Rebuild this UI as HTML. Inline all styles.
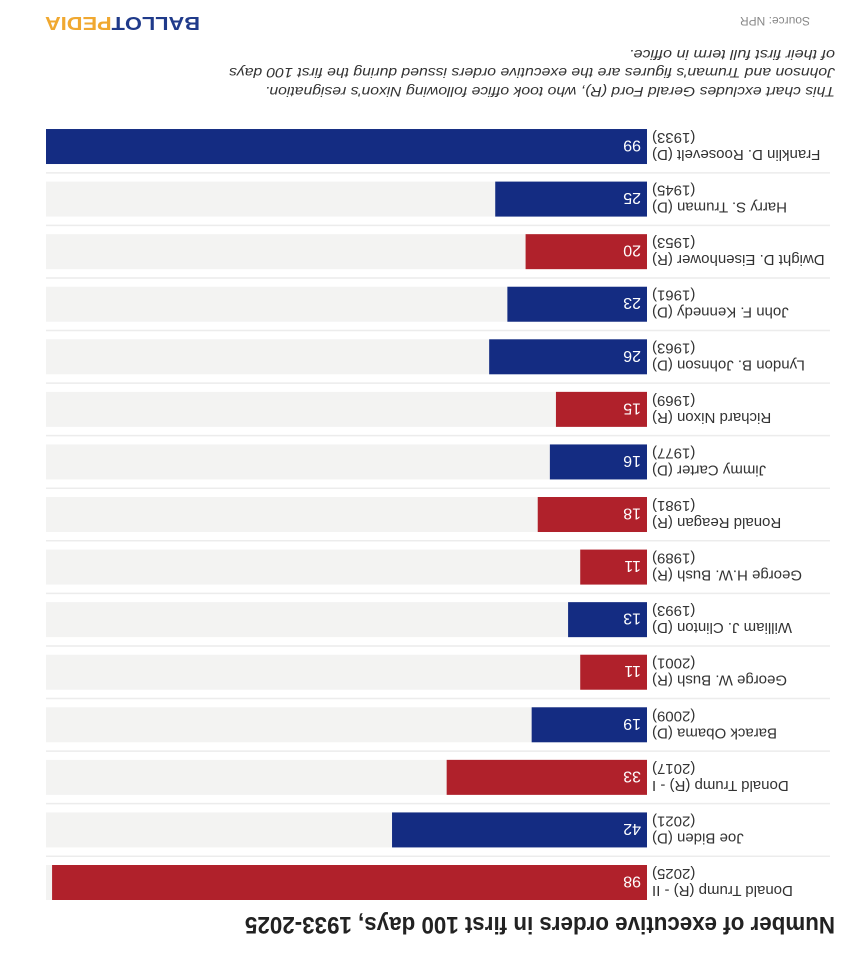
<!DOCTYPE html>
<html><head><meta charset="utf-8"><style>
html,body{margin:0;padding:0;background:#fff;}
svg{display:block;font-family:"Liberation Sans",sans-serif;}
</style></head><body>
<svg id="chart" width="845" height="956" viewBox="0 0 845 956" xmlns="http://www.w3.org/2000/svg">
<rect width="845" height="956" fill="#fff"/>
<g id="root" transform="rotate(180 422.5 478)">
<text x="10" y="39" font-size="24" font-weight="bold" fill="#222" textLength="590" lengthAdjust="spacingAndGlyphs">Number of executive orders in first 100 days, 1933-2025</text>
<g id="rows"></g>
<g font-size="14" font-style="italic" fill="#333">
<text x="10" y="869" textLength="570" lengthAdjust="spacingAndGlyphs">This chart excludes Gerald Ford (R), who took office following Nixon's resignation.</text>
<text x="10" y="888" textLength="606" lengthAdjust="spacingAndGlyphs">Johnson and Truman's figures are the executive orders issued during the first 100 days</text>
<text x="10" y="906" textLength="206" lengthAdjust="spacingAndGlyphs">of their first full term in office.</text>
</g>
<text x="35" y="939" font-size="12" fill="#888">Source: NPR</text>
<text x="800" y="939" text-anchor="end" font-size="18" font-weight="bold" textLength="155" lengthAdjust="spacingAndGlyphs"><tspan fill="#1f3a8a">BALLOT</tspan><tspan fill="#f0a830">PEDIA</tspan></text>
</g>
</svg>
<script>
const presidents = ["Donald Trump (R) - II","Joe Biden (D)","Donald Trump (R) - I","Barack Obama (D)","George W. Bush (R)","William J. Clinton (D)","George H.W. Bush (R)","Ronald Reagan (R)","Jimmy Carter (D)","Richard Nixon (R)","Lyndon B. Johnson (D)","John F. Kennedy (D)","Dwight D. Eisenhower (R)","Harry S. Truman (D)","Franklin D. Roosevelt (D)"];
const years = ["2025","2021","2017","2009","2001","1993","1989","1981","1977","1969","1963","1961","1953","1945","1933"];
const orders = [98,42,33,19,11,13,11,18,16,15,26,23,20,25,99];
const parties = ["R","D","R","D","R","D","R","R","D","R","D","D","R","D","D"];

const NS = "http://www.w3.org/2000/svg";
const x0 = 198, xMax = 799, vMax = 99;
const xScale = v => (v / vMax) * (xMax - x0);
const y0 = 56, pitch = 52.57, bh = 35;
const yScale = i => y0 + i * pitch;
const rows = document.getElementById("rows");
function mk(tag, attrs){const e=document.createElementNS(NS,tag);for(const k in attrs)e.setAttribute(k,attrs[k]);return e;}
presidents.forEach((p,i)=>{
  const y = yScale(i);
  const g = mk("g",{});
  
  
  if(i>0){
    const ln = mk("line",{x1:15,x2:799,y1:y-8.8,y2:y-8.8,stroke:"#ececec","stroke-width":1.5});
    
    
    g.appendChild(ln);
  }
  const bg = mk("rect",{x:x0,y:y,width:xMax-x0,height:bh,fill:"#f3f3f2"});
  
  
  g.appendChild(bg);
  const bar = mk("rect",{x:x0,y:y,width:xScale(orders[i]),height:bh,fill:parties[i]==="R"?"#b0212b":"#142c82"});
  
  
  g.appendChild(bar);
  const val = mk("text",{x:x0+6,y:y+bh/2+6,"font-size":16,fill:"#fff"});
  val.textContent = orders[i];
  
  
  g.appendChild(val);
  const l1 = mk("text",{x:193,y:y+14,"font-size":15,fill:"#333","text-anchor":"end"});
  l1.textContent = p;
  
  
  g.appendChild(l1);
  const l2 = mk("text",{x:193,y:y+31,"font-size":15,fill:"#333","text-anchor":"end"});
  l2.textContent = "(" + years[i] + ")";
  
  
  g.appendChild(l2);
  rows.appendChild(g);
});
</script>
</body></html>
